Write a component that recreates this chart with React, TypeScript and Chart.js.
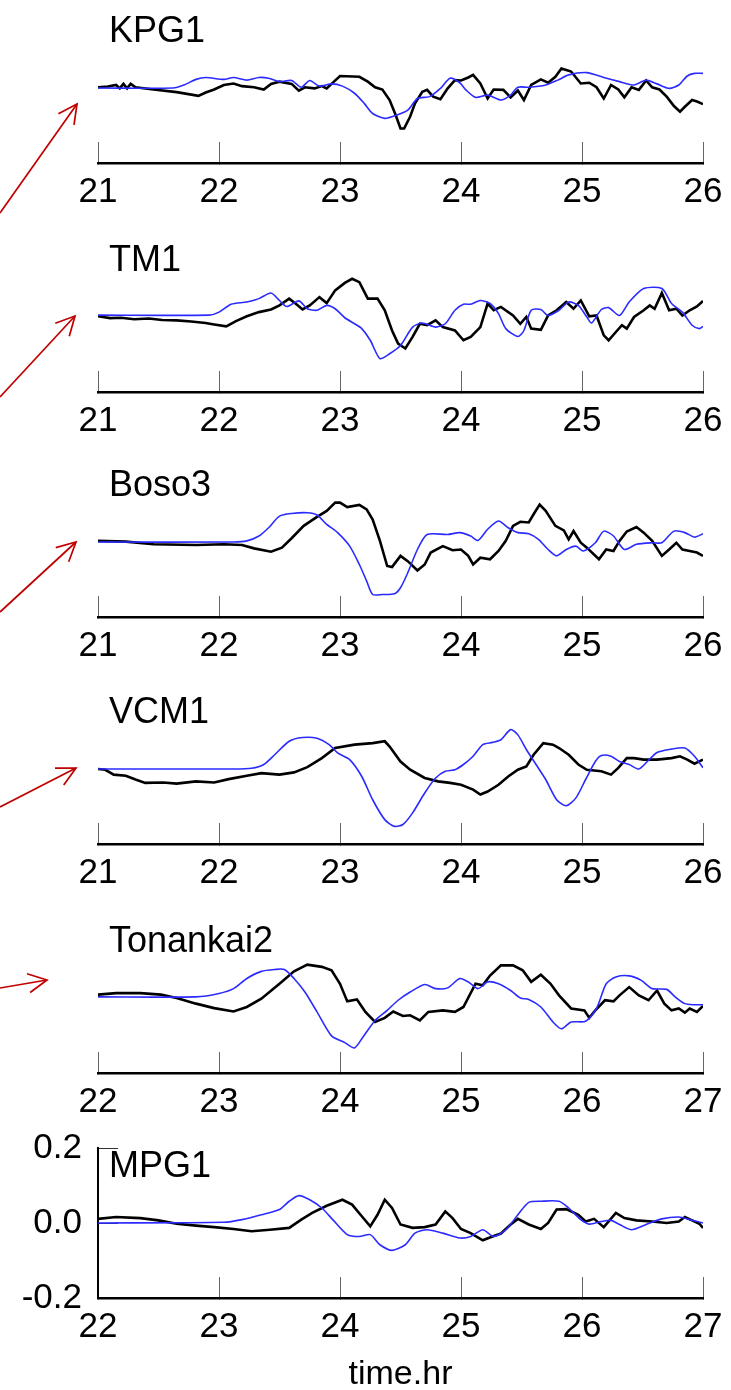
import React, { useEffect, useRef } from 'react';
import { Chart, registerables } from 'chart.js';

Chart.register(...registerables);

const FONT = '"Liberation Sans", Arial, Helvetica, sans-serif';
Chart.defaults.font.family = FONT;

// ---------------- data ----------------
const X_TICKS_EARLY = [21, 22, 23, 24, 25, 26];
const X_TICKS_LATE = [22, 23, 24, 25, 26, 27];
const Y_TICK_VALUES = [-0.2, -0.1, 0, 0.1, 0.2];
const Y_TICK_LABELS = ['-0.2', '', '0.0', '', '0.2'];
const X_AXIS_TITLE = 'time.hr';
const STATIONS = ['KPG1', 'TM1', 'Boso3', 'VCM1', 'Tonankai2', 'MPG1'];

// observed (black) and simulated (blue) waveforms: [time (hr), amplitude]
const KPG1_OBS: [number, number][] = [
  [21.00, 0.002], [21.08, 0.004], [21.15, 0.008], [21.18, -0.001], [21.21, 0.011], [21.24, -0.001], [21.27, 0.011], [21.31, 0.002],
  [21.46, -0.004], [21.65, -0.011], [21.83, -0.021], [21.89, -0.012], [21.96, -0.004], [22.04, 0.008], [22.12, 0.012], [22.19, 0.005],
  [22.29, 0.002], [22.37, -0.004], [22.43, 0.011], [22.50, 0.017], [22.60, 0.011], [22.66, -0.007], [22.71, 0.002], [22.79, -0.001],
  [22.85, 0.005], [22.89, -0.001], [22.95, 0.017], [23.00, 0.032], [23.16, 0.030], [23.23, 0.017], [23.29, 0.002], [23.35, -0.004],
  [23.41, -0.032], [23.46, -0.072], [23.50, -0.108], [23.53, -0.108], [23.58, -0.076], [23.62, -0.041], [23.68, -0.010], [23.72, -0.005],
  [23.77, -0.023], [23.83, -0.030], [23.89, -0.001], [23.95, 0.021], [24.00, 0.020], [24.06, 0.028], [24.10, 0.035], [24.16, 0.012],
  [24.22, -0.028], [24.27, -0.004], [24.35, -0.005], [24.41, -0.025], [24.47, -0.007], [24.52, -0.032], [24.58, 0.008], [24.66, 0.023],
  [24.72, 0.014], [24.78, 0.030], [24.83, 0.052], [24.87, 0.048], [24.91, 0.044], [24.99, 0.012], [25.06, 0.014], [25.12, 0.002],
  [25.18, -0.028], [25.24, 0.008], [25.30, -0.004], [25.35, -0.025], [25.41, 0.002], [25.47, -0.005], [25.53, 0.020], [25.58, 0.002],
  [25.64, -0.004], [25.70, -0.023], [25.76, -0.048], [25.81, -0.063], [25.85, -0.050], [25.91, -0.032], [25.95, -0.036], [26.00, -0.043],
];
const KPG1_SIM: [number, number][] = [
  [21.00, 0], [21.62, 0], [21.71, 0.008], [21.81, 0.023], [21.89, 0.028], [22.04, 0.023], [22.12, 0.028], [22.23, 0.021],
  [22.33, 0.028], [22.41, 0.026], [22.50, 0.017], [22.60, 0.020], [22.68, 0.002], [22.75, 0.020], [22.83, 0.005], [22.93, 0.011],
  [23.02, 0.005], [23.12, -0.014], [23.20, -0.041], [23.27, -0.068], [23.37, -0.081], [23.47, -0.072], [23.56, -0.059], [23.64, -0.028],
  [23.74, -0.023], [23.83, -0.001], [23.91, 0.026], [23.99, 0.014], [24.04, -0.005], [24.12, -0.025], [24.22, -0.019], [24.33, -0.032],
  [24.41, -0.019], [24.47, 0.002], [24.56, 0.002], [24.70, 0.008], [24.80, 0.021], [24.89, 0.035], [25.04, 0.041], [25.18, 0.028],
  [25.31, 0.017], [25.43, 0.008], [25.53, 0.021], [25.62, 0.011], [25.72, -0.001], [25.80, 0.008], [25.87, 0.032], [25.93, 0.039],
  [26.00, 0.039],
];

const TM1_OBS: [number, number][] = [
  [21.00, 0.002], [21.10, -0.003], [21.19, -0.002], [21.30, -0.006], [21.42, -0.004], [21.53, -0.008], [21.65, -0.009], [21.77, -0.012],
  [21.89, -0.016], [21.96, -0.020], [22.06, -0.025], [22.14, -0.011], [22.23, 0.002], [22.33, 0.013], [22.43, 0.020], [22.50, 0.031],
  [22.58, 0.049], [22.64, 0.034], [22.69, 0.020], [22.75, 0.031], [22.83, 0.053], [22.89, 0.037], [22.96, 0.071], [23.04, 0.091],
  [23.10, 0.102], [23.16, 0.093], [23.23, 0.049], [23.31, 0.049], [23.37, 0.018], [23.43, -0.036], [23.48, -0.071], [23.54, -0.084],
  [23.60, -0.053], [23.66, -0.018], [23.72, -0.022], [23.79, -0.009], [23.85, -0.027], [23.95, -0.036], [24.02, -0.062], [24.08, -0.053],
  [24.16, -0.027], [24.22, 0.036], [24.27, 0.018], [24.33, 0.027], [24.43, 0.004], [24.49, -0.018], [24.54, 0.000], [24.58, -0.031],
  [24.66, -0.034], [24.72, 0.004], [24.79, 0.018], [24.87, 0.040], [24.93, 0.022], [24.99, 0.044], [25.06, 0.002], [25.12, 0.004],
  [25.18, -0.049], [25.22, -0.062], [25.28, -0.040], [25.33, -0.022], [25.37, -0.031], [25.43, 0.000], [25.51, 0.018], [25.56, 0.031],
  [25.60, 0.022], [25.66, 0.064], [25.72, 0.018], [25.78, 0.022], [25.83, 0.004], [25.89, 0.018], [25.95, 0.028], [26.00, 0.043],
];
const TM1_SIM: [number, number][] = [
  [21.00, 0.005], [21.92, 0.005], [22.00, 0.013], [22.10, 0.034], [22.23, 0.040], [22.33, 0.049], [22.43, 0.064], [22.50, 0.044],
  [22.56, 0.028], [22.66, 0.043], [22.73, 0.022], [22.81, 0.018], [22.89, 0.031], [22.96, 0.022], [23.04, -0.002], [23.12, -0.018],
  [23.18, -0.031], [23.25, -0.062], [23.33, -0.111], [23.41, -0.098], [23.50, -0.076], [23.60, -0.027], [23.68, -0.016], [23.79, -0.027],
  [23.87, -0.018], [23.95, 0.018], [24.02, 0.034], [24.08, 0.034], [24.16, 0.044], [24.24, 0.036], [24.31, 0.009], [24.37, -0.031],
  [24.47, -0.052], [24.52, -0.036], [24.58, 0.018], [24.66, 0.020], [24.72, 0.004], [24.81, 0.018], [24.89, 0.040], [24.97, 0.031],
  [25.04, 0.000], [25.08, -0.016], [25.16, 0.020], [25.22, 0.025], [25.31, 0.004], [25.39, 0.040], [25.51, 0.076], [25.66, 0.076],
  [25.74, 0.036], [25.83, 0.013], [25.91, -0.022], [25.97, -0.031], [26.00, -0.025],
];

const BOSO3_OBS: [number, number][] = [
  [21.00, 0.003], [21.23, 0.001], [21.46, -0.006], [21.81, -0.008], [22.04, -0.006], [22.19, -0.008], [22.29, -0.017], [22.43, -0.026],
  [22.52, -0.015], [22.60, 0.010], [22.70, 0.043], [22.81, 0.067], [22.89, 0.083], [22.96, 0.105], [23.00, 0.105], [23.06, 0.093],
  [23.16, 0.099], [23.22, 0.087], [23.27, 0.060], [23.33, 0.003], [23.39, -0.064], [23.43, -0.067], [23.50, -0.037], [23.56, -0.051],
  [23.64, -0.076], [23.70, -0.060], [23.75, -0.028], [23.85, -0.011], [23.93, -0.022], [24.00, -0.020], [24.06, -0.037], [24.10, -0.060],
  [24.16, -0.042], [24.24, -0.046], [24.31, -0.024], [24.37, 0.003], [24.43, 0.043], [24.49, 0.054], [24.56, 0.052], [24.60, 0.074],
  [24.65, 0.100], [24.70, 0.083], [24.78, 0.043], [24.85, 0.031], [24.89, 0.007], [24.93, 0.029], [24.99, -0.002], [25.04, -0.015],
  [25.14, -0.046], [25.20, -0.020], [25.26, -0.024], [25.31, 0.003], [25.37, 0.028], [25.45, 0.040], [25.51, 0.025], [25.58, 0.003],
  [25.66, -0.037], [25.72, -0.020], [25.78, -0.002], [25.83, -0.020], [25.89, -0.024], [25.95, -0.028], [26.00, -0.037],
];
const BOSO3_SIM: [number, number][] = [
  [21.00, 0.000], [22.12, 0.000], [22.23, 0.003], [22.33, 0.016], [22.41, 0.038], [22.50, 0.069], [22.60, 0.076], [22.73, 0.078],
  [22.81, 0.072], [22.89, 0.047], [22.98, 0.025], [23.08, -0.011], [23.16, -0.060], [23.22, -0.104], [23.27, -0.140], [23.35, -0.140],
  [23.45, -0.138], [23.50, -0.122], [23.56, -0.082], [23.64, -0.020], [23.72, 0.020], [23.89, 0.020], [23.99, 0.025], [24.08, 0.016],
  [24.14, 0.004], [24.22, 0.034], [24.31, 0.056], [24.39, 0.038], [24.47, 0.025], [24.56, 0.022], [24.64, 0.007], [24.72, -0.020],
  [24.79, -0.037], [24.87, -0.020], [24.95, -0.011], [25.01, -0.024], [25.11, -0.002], [25.18, 0.029], [25.26, 0.016], [25.35, -0.020],
  [25.45, -0.006], [25.58, -0.002], [25.66, -0.002], [25.76, 0.029], [25.85, 0.025], [25.93, 0.013], [26.00, 0.022],
];

const VCM1_OBS: [number, number][] = [
  [21.00, 0.000], [21.06, -0.002], [21.13, -0.015], [21.23, -0.018], [21.31, -0.028], [21.39, -0.037], [21.54, -0.036], [21.65, -0.039],
  [21.81, -0.033], [21.96, -0.036], [22.08, -0.027], [22.23, -0.018], [22.35, -0.011], [22.50, -0.015], [22.62, -0.009], [22.73, 0.005],
  [22.85, 0.029], [22.96, 0.056], [23.12, 0.065], [23.27, 0.069], [23.37, 0.074], [23.41, 0.060], [23.50, 0.020], [23.58, -0.002],
  [23.70, -0.024], [23.81, -0.033], [23.91, -0.037], [24.00, -0.042], [24.10, -0.055], [24.16, -0.068], [24.22, -0.060], [24.31, -0.042],
  [24.39, -0.020], [24.47, -0.002], [24.54, 0.007], [24.60, 0.038], [24.68, 0.069], [24.76, 0.065], [24.81, 0.056], [24.89, 0.038],
  [24.97, 0.012], [25.04, -0.002], [25.16, -0.006], [25.24, -0.015], [25.30, 0.003], [25.37, 0.029], [25.43, 0.029], [25.51, 0.025],
  [25.62, 0.025], [25.74, 0.029], [25.81, 0.034], [25.87, 0.025], [25.93, 0.014], [26.00, 0.025],
];
const VCM1_SIM: [number, number][] = [
  [21.00, 0.000], [22.12, 0.000], [22.27, 0.002], [22.37, 0.012], [22.46, 0.038], [22.58, 0.074], [22.69, 0.084], [22.81, 0.082],
  [22.91, 0.065], [22.98, 0.043], [23.08, 0.025], [23.18, -0.020], [23.27, -0.082], [23.37, -0.135], [23.45, -0.153], [23.52, -0.148],
  [23.60, -0.117], [23.70, -0.064], [23.79, -0.024], [23.87, -0.006], [23.95, -0.002], [24.02, 0.012], [24.10, 0.034], [24.18, 0.065],
  [24.26, 0.071], [24.33, 0.078], [24.41, 0.105], [24.47, 0.091], [24.54, 0.052], [24.62, 0.012], [24.70, -0.028], [24.79, -0.082],
  [24.87, -0.098], [24.95, -0.077], [25.03, -0.028], [25.11, 0.020], [25.16, 0.036], [25.24, 0.034], [25.31, 0.020], [25.39, 0.012],
  [25.47, 0.000], [25.54, 0.020], [25.62, 0.044], [25.74, 0.053], [25.85, 0.056], [25.93, 0.034], [26.00, 0.003],
];

const TONANKAI2_OBS: [number, number][] = [
  [22.00, 0.009], [22.15, 0.013], [22.35, 0.013], [22.52, 0.009], [22.65, 0.000], [22.81, -0.015], [22.96, -0.027], [23.12, -0.036],
  [23.23, -0.024], [23.35, -0.002], [23.50, 0.038], [23.62, 0.071], [23.73, 0.089], [23.85, 0.083], [23.93, 0.074], [24.00, 0.038],
  [24.06, -0.009], [24.14, -0.004], [24.21, -0.037], [24.29, -0.064], [24.37, -0.053], [24.44, -0.036], [24.52, -0.048], [24.58, -0.046],
  [24.66, -0.060], [24.73, -0.037], [24.85, -0.033], [24.95, -0.037], [25.02, -0.024], [25.12, 0.038], [25.18, 0.034], [25.24, 0.060],
  [25.33, 0.087], [25.43, 0.087], [25.51, 0.074], [25.58, 0.043], [25.66, 0.062], [25.74, 0.038], [25.81, 0.007], [25.91, -0.028],
  [26.02, -0.033], [26.06, -0.053], [26.11, -0.033], [26.19, -0.006], [26.26, -0.009], [26.31, 0.007], [26.39, 0.029], [26.47, 0.007],
  [26.55, -0.006], [26.62, 0.020], [26.68, -0.015], [26.74, -0.033], [26.80, -0.028], [26.85, -0.039], [26.89, -0.028], [26.95, -0.037],
  [27.00, -0.021],
];
const TONANKAI2_SIM: [number, number][] = [
  [22.00, 0.003], [22.81, 0.003], [23.00, 0.012], [23.12, 0.025], [23.23, 0.052], [23.35, 0.071], [23.46, 0.076], [23.54, 0.076],
  [23.62, 0.052], [23.71, 0.016], [23.81, -0.037], [23.93, -0.101], [24.04, -0.119], [24.12, -0.133], [24.19, -0.104], [24.29, -0.060],
  [24.39, -0.033], [24.48, -0.006], [24.58, 0.016], [24.70, 0.036], [24.79, 0.025], [24.89, 0.027], [24.99, 0.052], [25.06, 0.043],
  [25.14, 0.025], [25.22, 0.043], [25.31, 0.038], [25.41, 0.020], [25.49, 0.000], [25.56, -0.004], [25.66, -0.024], [25.76, -0.064],
  [25.83, -0.082], [25.91, -0.064], [26.03, -0.062], [26.12, -0.028], [26.20, 0.038], [26.28, 0.056], [26.39, 0.059], [26.49, 0.047],
  [26.58, 0.025], [26.70, 0.023], [26.77, 0.003], [26.85, -0.015], [26.93, -0.018], [27.00, -0.018],
];

const MPG1_OBS: [number, number][] = [
  [22.00, 0.011], [22.15, 0.016], [22.35, 0.013], [22.50, 0.007], [22.65, -0.002], [22.81, -0.007], [22.96, -0.011], [23.12, -0.016],
  [23.27, -0.022], [23.42, -0.018], [23.58, -0.013], [23.68, 0.009], [23.77, 0.027], [23.89, 0.046], [24.02, 0.062], [24.10, 0.049],
  [24.18, 0.018], [24.25, -0.009], [24.31, 0.022], [24.37, 0.062], [24.43, 0.040], [24.50, -0.004], [24.60, -0.013], [24.70, -0.011],
  [24.79, -0.004], [24.87, 0.031], [24.93, 0.013], [25.00, -0.016], [25.08, -0.027], [25.18, -0.046], [25.26, -0.036], [25.33, -0.028],
  [25.41, -0.004], [25.47, 0.011], [25.56, -0.004], [25.66, -0.016], [25.72, 0.000], [25.79, 0.036], [25.87, 0.037], [25.97, 0.022],
  [26.03, 0.004], [26.10, 0.011], [26.18, -0.011], [26.28, 0.027], [26.35, 0.013], [26.45, 0.007], [26.58, 0.004], [26.70, 0.000],
  [26.80, 0.004], [26.85, 0.016], [26.91, 0.007], [26.97, -0.002], [27.00, -0.013],
];
const MPG1_SIM: [number, number][] = [
  [22.00, 0.000], [23.04, 0.002], [23.19, 0.009], [23.35, 0.022], [23.50, 0.036], [23.58, 0.058], [23.66, 0.073], [23.75, 0.062],
  [23.85, 0.040], [23.94, 0.009], [24.06, -0.031], [24.16, -0.036], [24.25, -0.031], [24.33, -0.058], [24.43, -0.073], [24.54, -0.058],
  [24.62, -0.027], [24.72, -0.018], [24.85, -0.027], [24.99, -0.040], [25.08, -0.036], [25.18, -0.018], [25.27, -0.036], [25.37, -0.018],
  [25.47, 0.022], [25.56, 0.055], [25.66, 0.058], [25.81, 0.058], [25.89, 0.040], [25.99, 0.009], [26.06, -0.003], [26.16, 0.004],
  [26.24, 0.007], [26.31, -0.004], [26.41, -0.018], [26.53, -0.004], [26.66, 0.011], [26.80, 0.016], [26.89, 0.009], [27.00, 0.000],
];

const OBS_SERIES = [KPG1_OBS, TM1_OBS, BOSO3_OBS, VCM1_OBS, TONANKAI2_OBS, MPG1_OBS];
const SIM_SERIES = [KPG1_SIM, TM1_SIM, BOSO3_SIM, VCM1_SIM, TONANKAI2_SIM, MPG1_SIM];
const PANEL_X_TICKS = [X_TICKS_EARLY, X_TICKS_EARLY, X_TICKS_EARLY, X_TICKS_EARLY, X_TICKS_LATE, X_TICKS_LATE];

// ---------------- layout ----------------
const PAGE_W = 731;
const PAGE_H = 1390;
const AXIS_Y = [163, 392, 617, 844, 1073, 1298];
const PLOT_H = 150;
const PLOT_LEFT = 98;
const PLOT_RIGHT_PAD = 28;

const ARROWS = [
  { x1: 0, y1: 213, x2: 77, y2: 104 },
  { x1: 0, y1: 397, x2: 75, y2: 316 },
  { x1: 0, y1: 612, x2: 76, y2: 542 },
  { x1: 0, y1: 807, x2: 76, y2: 768 },
  { x1: 0, y1: 988, x2: 47, y2: 980 },
];

const panelTitlePlugin = {
  id: 'panelTitle',
  afterDraw(chart: any, _args: any, opts: any) {
    const { ctx, chartArea } = chart;
    ctx.save();
    ctx.font = `36px ${FONT}`;
    ctx.fillStyle = '#000';
    ctx.textBaseline = 'alphabetic';
    ctx.textAlign = 'left';
    ctx.fillText(opts.text, chartArea.left + 11, chartArea.top + 29);
    ctx.restore();
  },
};

function Panel({ index }: { index: number }) {
  const ref = useRef<HTMLCanvasElement>(null);
  const last = index === STATIONS.length - 1;
  const axisY = AXIS_Y[index];
  const top = last ? axisY - 198 : axisY - 163;
  const height = last ? PAGE_H - top : 227;

  useEffect(() => {
    const ticks = PANEL_X_TICKS[index];
    const chartTop = axisY - PLOT_H - top;
    const xHeight = height - (axisY - top);
    const chart = new Chart(ref.current as HTMLCanvasElement, {
      type: 'line',
      data: {
        datasets: [
          {
            label: 'simulated',
            data: SIM_SERIES[index].map(([x, y]) => ({ x, y })),
            borderColor: '#2b2bff',
            borderWidth: 1.6,
            pointRadius: 0,
            tension: 0.25,
            order: 0,
          },
          {
            label: 'observed',
            data: OBS_SERIES[index].map(([x, y]) => ({ x, y })),
            borderColor: '#000',
            borderWidth: 2.6,
            pointRadius: 0,
            tension: 0,
            order: 1,
          },
        ],
      },
      options: {
        animation: false,
        responsive: false,
        events: [],
        layout: { padding: { left: last ? 0 : PLOT_LEFT, right: PLOT_RIGHT_PAD, top: chartTop, bottom: 0 } },
        plugins: {
          legend: { display: false },
          tooltip: { enabled: false },
          title: { display: false },
          panelTitle: { text: STATIONS[index] },
        } as any,
        scales: {
          x: {
            type: 'linear',
            position: 'bottom',
            min: ticks[0],
            max: ticks[ticks.length - 1],
            afterFit: (s: any) => {
              s.height = xHeight;
              s.paddingLeft = 0;
              s.paddingRight = 0;
            },
            afterBuildTicks: (s: any) => { s.ticks = ticks.map((v) => ({ value: v })); },
            ticks: {
              padding: 29,
              color: '#000',
              font: { size: 35, family: FONT },
              maxRotation: 0,
              autoSkip: false,
              callback: (_v: any, i: number) => String(ticks[i]),
            },
            grid: { drawOnChartArea: false, drawTicks: true, tickLength: -21, color: '#666', lineWidth: 1 },
            border: { display: true, color: '#000', width: 2.5 },
            title: last
              ? { display: true, text: X_AXIS_TITLE, color: '#000', font: { size: 34, family: FONT, lineHeight: 1 }, padding: { top: 0, bottom: -2 } }
              : { display: false },
          },
          y: {
            type: 'linear',
            display: last,
            min: -0.2,
            max: 0.2,
            afterFit: last
              ? (s: any) => {
                  s.width = PLOT_LEFT;
                  s.paddingTop = 0;
                  s.paddingBottom = 0;
                }
              : undefined,
            afterBuildTicks: (s: any) => { s.ticks = Y_TICK_VALUES.map((v) => ({ value: v })); },
            ticks: {
              padding: 36,
              color: '#000',
              font: { size: 35, family: FONT },
              callback: (_v: any, i: number) => Y_TICK_LABELS[i],
            },
            grid: { drawOnChartArea: false, drawTicks: true, tickLength: -20, color: '#333', lineWidth: 1 },
            border: { display: true, color: '#000', width: 2 },
          },
        },
      } as any,
      plugins: [panelTitlePlugin],
    });
    return () => chart.destroy();
  }, []);

  return (
    <canvas
      ref={ref}
      width={PAGE_W}
      height={height}
      style={{ position: 'absolute', left: 0, top, width: PAGE_W, height, display: 'block' }}
    />
  );
}

function Arrows() {
  const head = 21;
  const spread = (27 * Math.PI) / 180;
  return (
    <svg width={PAGE_W} height={PAGE_H} style={{ position: 'absolute', left: 0, top: 0, pointerEvents: 'none' }}>
      {ARROWS.map((a, i) => {
        const back = Math.atan2(a.y1 - a.y2, a.x1 - a.x2);
        const p1 = [a.x2 + head * Math.cos(back + spread), a.y2 + head * Math.sin(back + spread)];
        const p2 = [a.x2 + head * Math.cos(back - spread), a.y2 + head * Math.sin(back - spread)];
        return (
          <g key={i} stroke="#c00000" strokeWidth={1.7} fill="none">
            <line x1={a.x1} y1={a.y1} x2={a.x2} y2={a.y2} />
            <polyline points={`${p1[0]},${p1[1]} ${a.x2},${a.y2} ${p2[0]},${p2[1]}`} />
          </g>
        );
      })}
    </svg>
  );
}

export default function App() {
  useEffect(() => {
    document.body.style.margin = '0';
  }, []);
  return (
    <div style={{ position: 'absolute', left: 0, top: 0, width: PAGE_W, height: PAGE_H, background: '#fff', overflow: 'hidden' }}>
      {STATIONS.map((_, i) => (
        <Panel key={i} index={i} />
      ))}
      <Arrows />
    </div>
  );
}
